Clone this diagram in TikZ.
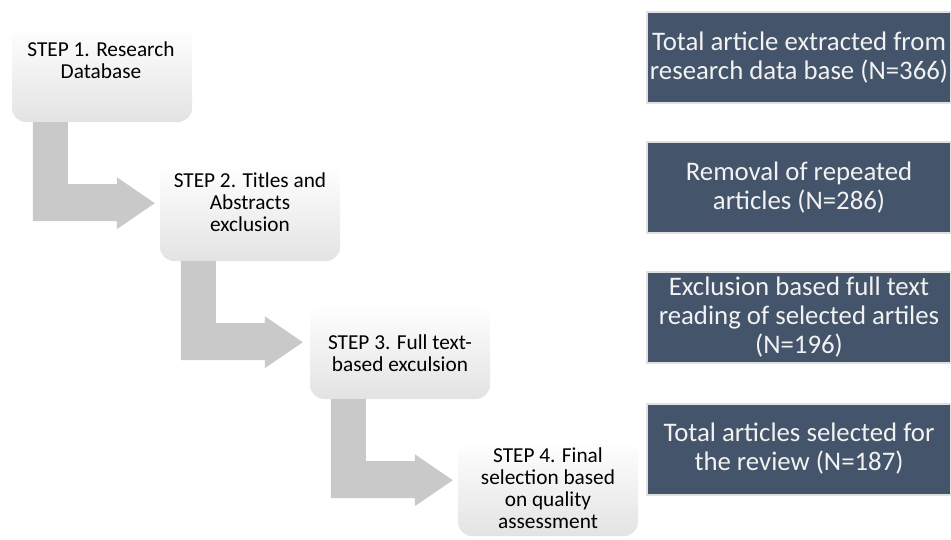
\documentclass[tikz,border=0pt]{standalone}
\usepackage{fontspec}
\setmainfont{Carlito}
\usepackage{xcolor}

\definecolor{slate}{RGB}{68,84,106}
\definecolor{slateedge}{RGB}{224,224,224}
\definecolor{arrowgray}{RGB}{201,201,201}

\tikzset{
	stepbox/.style={rectangle, rounded corners=14pt, minimum width=180pt, minimum height=96pt, inner sep=0pt,
		top color=white, middle color=white, bottom color=black!11, draw=none},
	steptext/.style={align=center, font=\fontsize{21.3}{22}\selectfont, inner sep=0pt},
	resultbox/.style={rectangle, fill=slate, draw=slateedge, line width=2pt, minimum width=304pt, minimum height=91pt,
		inner sep=0pt, align=center, text=white!95!black, font=\fontsize{26.8}{29}\selectfont}
}

\begin{document}
\begin{tikzpicture}[x=1pt, y=1pt]
	\useasboundingbox (0,0) rectangle (951,-539);

	% steps
	\node[stepbox] (s1) at (102,-74) {};
	\node[stepbox] (s2) at (250,-213) {};
	\node[stepbox] (s3) at (400,-351) {};
	\node[stepbox] (s4) at (548,-488) {};

	\node[steptext] (t1) at (101,-60) {STEP 1. Research\\Database};
	\node[steptext] (t2) at (250,-202) {STEP 2. Titles and\\Abstracts\\exclusion};
	\node[steptext] (t3) at (400,-353) {STEP 3. Full text-\\based exculsion};
	\node[steptext] (t4) at (548,-488) {STEP 4. Final\\selection based\\on quality\\assessment};

	% bent arrows
	\fill[arrowgray, shift={(s1.south west)}] (21,0) -- (56,0) -- (56,-62) -- (105,-62) -- (105,-55) -- (143,-81) -- (105,-107) -- (105,-99) -- (21,-99) -- cycle;
	\fill[arrowgray, shift={(s2.south west)}] (21,0) -- (56,0) -- (56,-62) -- (105,-62) -- (105,-55) -- (143,-81) -- (105,-107) -- (105,-99) -- (21,-99) -- cycle;
	\fill[arrowgray, shift={(s3.south west)}] (21,0) -- (56,0) -- (56,-62) -- (105,-62) -- (105,-55) -- (143,-81) -- (105,-107) -- (105,-99) -- (21,-99) -- cycle;

	% results
	\node[resultbox] (r1) at (799,-57.5) {Total article extracted from\\research data base (N=366)};
	\node[resultbox] (r2) at (799,-187.5) {Removal of repeated\\articles (N=286)};
	\node[resultbox] (r3) at (799,-317.5) {Exclusion based full text\\reading of selected artiles\\(N=196)};
	\node[resultbox] (r4) at (799,-449) {Total articles selected for\\the review (N=187)};

\end{tikzpicture}
\end{document}
